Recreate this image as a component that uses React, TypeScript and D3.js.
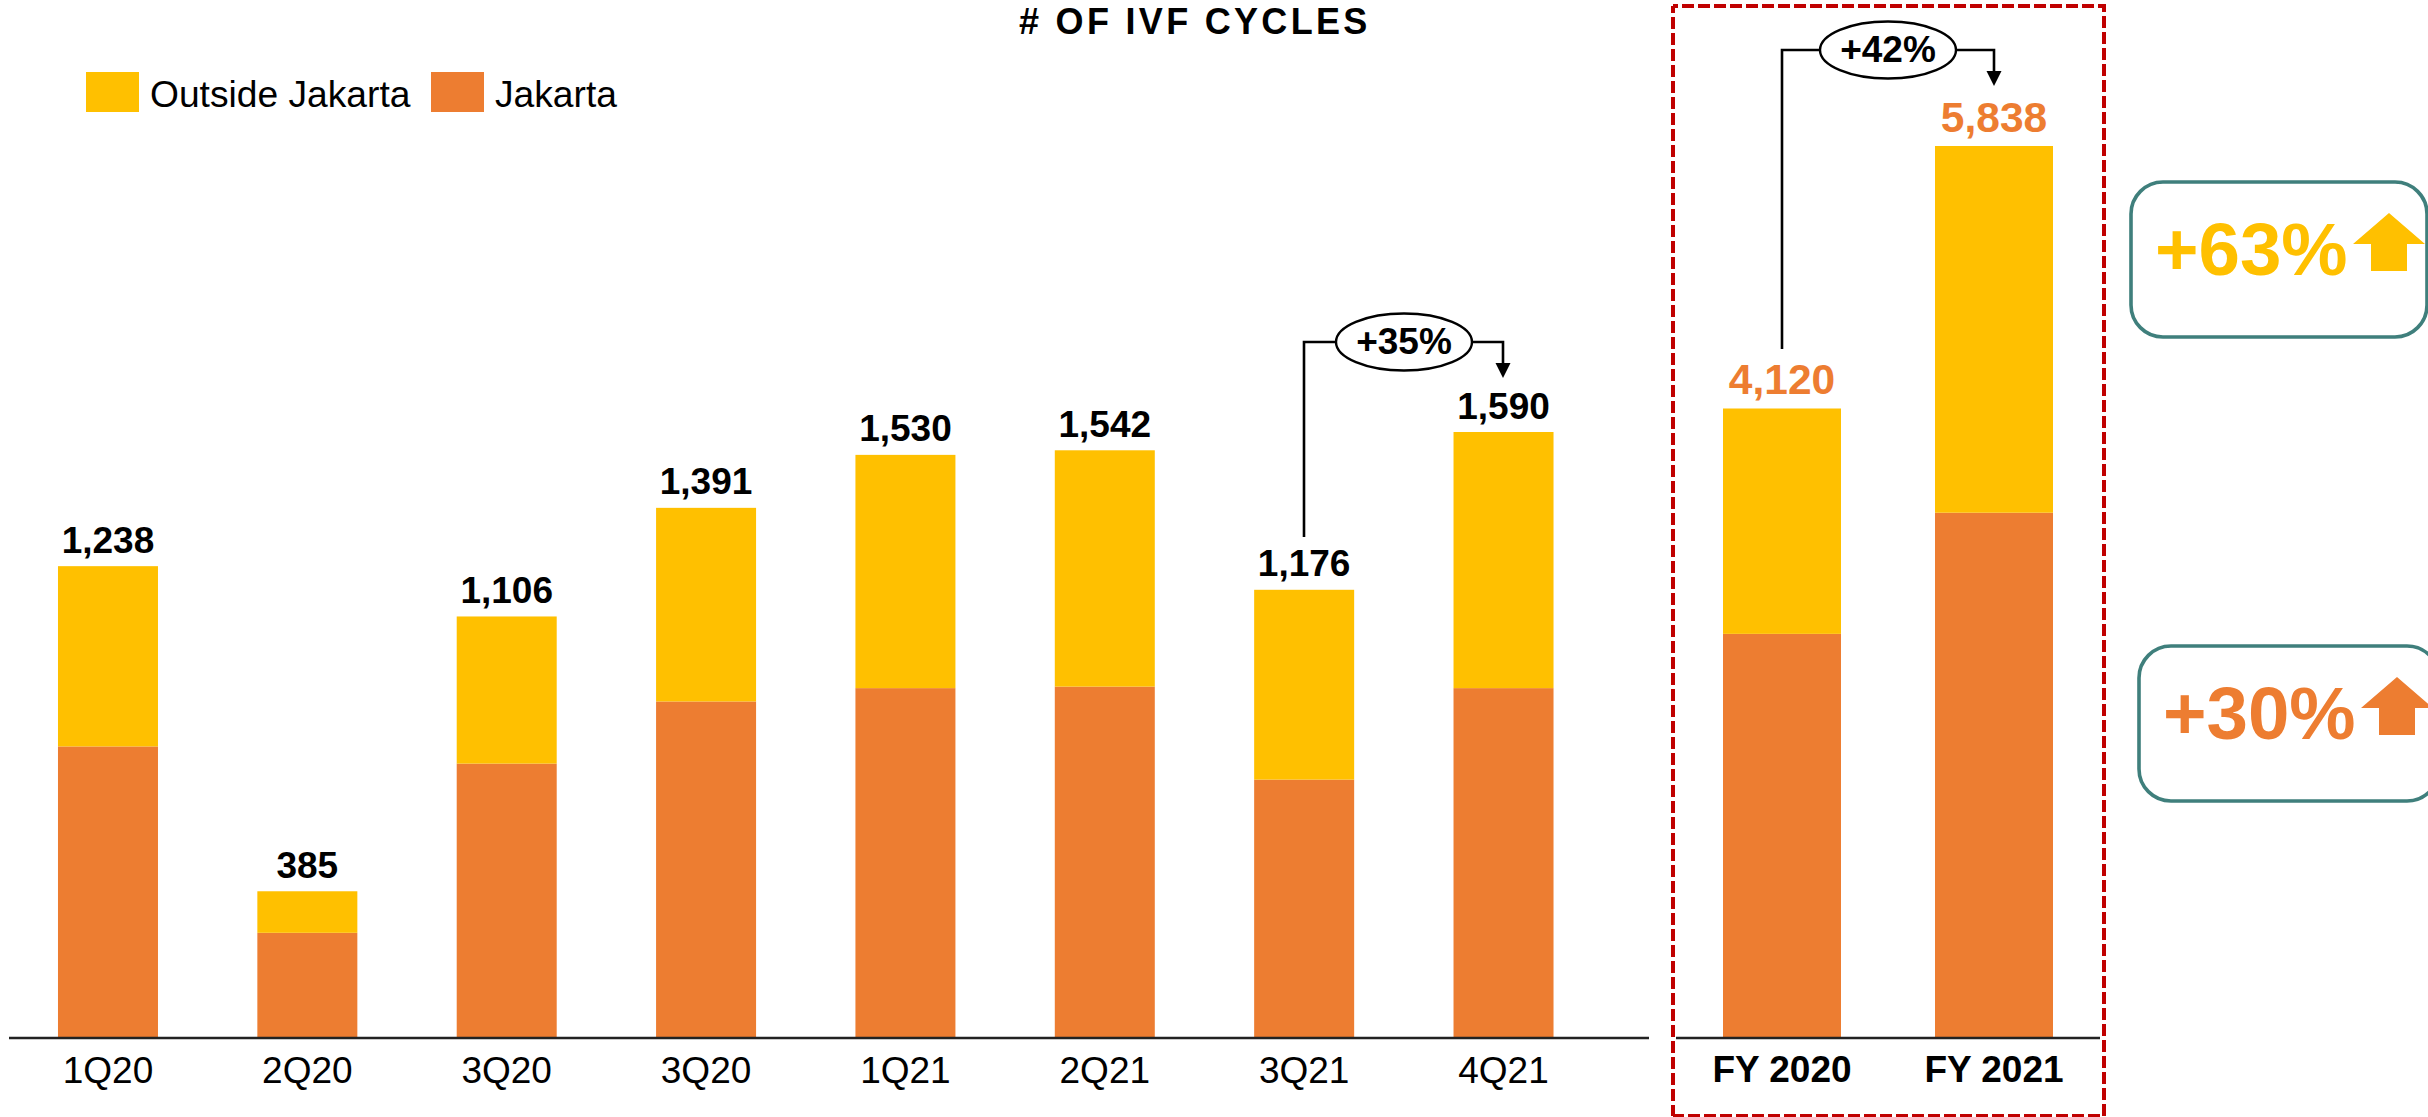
import React from "react";
import * as d3 from "d3";

const quarters = ["1Q20", "2Q20", "3Q20", "3Q20", "1Q21", "2Q21", "3Q21", "4Q21"];
const quarterTotals = [1238, 385, 1106, 1391, 1530, 1542, 1176, 1590];
const quarterJakarta = [765, 276, 720, 883, 918, 922, 678, 918];
const years = ["FY 2020", "FY 2021"];
const yearTotals = [4120, 5838];
const yearJakarta = [2645, 3438];
const legendItems = ["Outside Jakarta", "Jakarta"];

const YELLOW = "#FFC000";
const ORANGE = "#ED7D31";
const FONT = "'Liberation Sans', Arial, sans-serif";
const BASE = 1038;

const xQ = d3.scaleBand<number>().domain(d3.range(quarters.length)).range([8.3, 1603.2]).paddingInner(0.4984).paddingOuter(0.2492);
const yQ = d3.scaleLinear().domain([0, 1590]).range([BASE, 432]);
const xY = d3.scaleBand<number>().domain(d3.range(years.length)).range([1676, 2100]).paddingInner(0.4434).paddingOuter(0.2217);
const yY = d3.scaleLinear().domain([0, 5838]).range([BASE, 146]);

function Callout({ x0, y0, x1, yTop, tip, cx, label }: any) {
  return (
    <g>
      <path d={`M${x0},${y0}V${yTop}H${x1}V${tip - 15}`} fill="none" stroke="#000" strokeWidth={2.6} />
      <path d={`M${x1 - 7.5},${tip - 15}H${x1 + 7.5}L${x1},${tip}Z`} fill="#000" />
      <ellipse cx={cx} cy={yTop} rx={68} ry={28.5} fill="#fff" stroke="#000" strokeWidth={2.4} />
      <text x={cx} y={yTop + 12} textAnchor="middle" fontWeight="bold" fontSize={37} fill="#000">{label}</text>
    </g>
  );
}

function Stack({ total, jak, x, w, y }: any) {
  return (
    <g>
      <rect x={x} y={y(jak)} width={w} height={y(0) - y(jak)} fill={ORANGE} />
      <rect x={x} y={y(total)} width={w} height={y(jak) - y(total)} fill={YELLOW} />
    </g>
  );
}

function Badge({ x, y, w, h, label, textX, baseline, color, ax, at }: any) {
  return (
    <g>
      <rect x={x} y={y} width={w} height={h} rx={32} ry={32} fill="#fff" stroke="#3F7F7C" strokeWidth={3.6} />
      <text x={textX} y={baseline} fontWeight="bold" fontSize={74.5} fill={color}>{label}</text>
      <path d={`M${ax},${at}L${ax + 36},${at + 31}H${ax + 18}V${at + 58}H${ax - 18}V${at + 31}H${ax - 36}Z`} fill={color} />
    </g>
  );
}

export default function App() {
  return (
    <svg width={2428} height={1117} viewBox="0 0 2428 1117" style={{ position: "absolute", left: 0, top: 0, display: "block", background: "#fff" }} fontFamily={FONT}>
      <text x={1019} y={34} fontWeight="bold" fontSize={36} letterSpacing={3.3} fill="#000"># OF IVF CYCLES</text>

      <rect x={86} y={72} width={53} height={40} fill={YELLOW} />
      <text x={150} y={107} fontSize={37.2} fill="#000">{legendItems[0]}</text>
      <rect x={431} y={72} width={53} height={40} fill={ORANGE} />
      <text x={495} y={107} fontSize={37.2} fill="#000">{legendItems[1]}</text>

      {quarters.map((q, i) => (
        <g key={i}>
          <Stack total={quarterTotals[i]} jak={quarterJakarta[i]} x={xQ(i)} w={xQ.bandwidth()} y={yQ} />
          <text x={xQ(i)! + xQ.bandwidth() / 2} y={yQ(quarterTotals[i]) - 13.5} textAnchor="middle" fontWeight="bold" fontSize={37} fill="#000">{d3.format(",")(quarterTotals[i])}</text>
          <text x={xQ(i)! + xQ.bandwidth() / 2} y={1083} textAnchor="middle" fontSize={37} fill="#000">{q}</text>
        </g>
      ))}
      <line x1={9} x2={1649} y1={BASE} y2={BASE} stroke="#222" strokeWidth={2.5} />

      <Callout x0={1304} y0={537} x1={1503} yTop={342} tip={378} cx={1404} label="+35%" />

      {years.map((q, i) => (
        <g key={i}>
          <Stack total={yearTotals[i]} jak={yearJakarta[i]} x={xY(i)} w={xY.bandwidth()} y={yY} />
          <text x={xY(i)! + xY.bandwidth() / 2} y={yY(yearTotals[i]) - 14} textAnchor="middle" fontWeight="bold" fontSize={42.5} fill={ORANGE}>{d3.format(",")(yearTotals[i])}</text>
          <text x={xY(i)! + xY.bandwidth() / 2} y={1082} textAnchor="middle" fontWeight="bold" fontSize={37} fill="#000">{q}</text>
        </g>
      ))}
      <line x1={1676} x2={2100} y1={BASE} y2={BASE} stroke="#222" strokeWidth={2.5} />

      <Callout x0={1782} y0={349} x1={1994} yTop={50} tip={86} cx={1888} label="+42%" />

      <path d="M1673,6H2104V1116H1673" fill="none" stroke="#C00000" strokeWidth={4} strokeDasharray="12 4" strokeDashoffset={7} />
      <path d="M1673,6V1116" fill="none" stroke="#C00000" strokeWidth={4} strokeDasharray="12 4" strokeDashoffset={5} />

      <Badge x={2131} y={182} w={296} h={155} label="+63%" textX={2155} baseline={275} color={YELLOW} ax={2389} at={213} />
      <Badge x={2139} y={646} w={300} h={155} label="+30%" textX={2163} baseline={739} color={ORANGE} ax={2397} at={677} />
    </svg>
  );
}
